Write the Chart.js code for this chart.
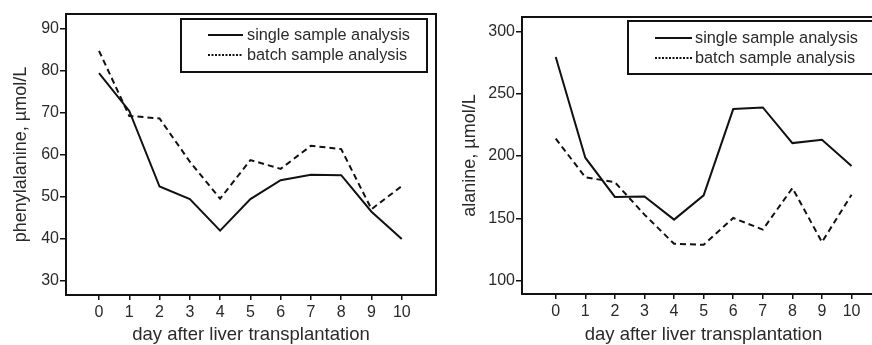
<!DOCTYPE html>
<html><head><meta charset="utf-8">
<script src="https://cdn.jsdelivr.net/npm/chart.js@4"></script>
<style>
html,body{margin:0;padding:0;background:#fff;overflow:hidden;width:872px;height:345px;}
.p{position:absolute;top:0;height:345px;}
#w1{left:0;width:440px;}
#w2{left:440px;width:450px;}
</style></head><body>
<div id="w1" class="p"><canvas id="c1"></canvas></div>
<div id="w2" class="p"><canvas id="c2"></canvas></div>
<script>
const days = [0,1,2,3,4,5,6,7,8,9,10];
const xTicks = [0,1,2,3,4,5,6,7,8,9,10];
const pheSingle = [79.5,70.5,52.5,49.5,42,49.5,54,55.3,55.2,46.5,40];
const pheBatch = [84.8,69.3,68.7,58.4,49.6,58.8,56.7,62.2,61.4,47.1,52.6];
const pheTicks = [30,40,50,60,70,80,90];
const alaSingle = [279.5,198.7,167.2,167.5,149,168.5,237.7,239,210.4,213,192];
const alaBatch = [214,183,179,153,129.6,128.8,150.3,141,174.3,131,169];
const alaTicks = [100,150,200,250,300];
const seriesLabels = ['single sample analysis','batch sample analysis'];
const xTitle = 'day after liver transplantation';
const pheTitle = 'phenylalanine, \u00b5mol/L';
const alaTitle = 'alanine, \u00b5mol/L';

const FONT = '"Liberation Sans", Arial, sans-serif';
const INK = '#111';
const TXT = '#2a2a2a';

const framePlugin = {
  id: 'frameLegend',
  afterDraw(chart, args, o) {
    const {ctx, chartArea: a} = chart;
    ctx.save();
    ctx.strokeStyle = INK;
    ctx.lineWidth = 2;
    ctx.setLineDash([]);
    ctx.strokeRect(a.left, a.top, a.right - a.left, a.bottom - a.top);
    ctx.fillStyle = '#fff';
    ctx.fillRect(o.x, o.y, o.w, o.h);
    ctx.strokeRect(o.x, o.y, o.w, o.h);
    ctx.font = '16.3px ' + FONT;
    ctx.textBaseline = 'middle';
    ctx.textAlign = 'left';
    chart.data.datasets.forEach((ds, i) => {
      const ry = o.y + o.rows[i];
      ctx.beginPath();
      ctx.setLineDash(ds.legendDash);
      ctx.lineWidth = 2;
      ctx.strokeStyle = INK;
      ctx.moveTo(o.x + o.lineX, ry);
      ctx.lineTo(o.x + o.lineX + o.lineLen, ry);
      ctx.stroke();
      ctx.setLineDash([]);
      ctx.fillStyle = TXT;
      ctx.fillText(ds.label, o.x + o.textX, ry + 1);
    });
    ctx.restore();
  }
};

function pts(ys) { return days.map((d, i) => ({x: d, y: ys[i]})); }

function makeChart(id, single, batch, yTicks, yMin, yMax, xMin, xMax, yTitle, yw, xh, pad, titlePad, legend) {
  return new Chart(document.getElementById(id), {
    type: 'line',
    data: {
      datasets: [
        {label: seriesLabels[0], data: pts(single), borderColor: INK, borderWidth: 2, pointRadius: 0, tension: 0, fill: false, legendDash: []},
        {label: seriesLabels[1], data: pts(batch), borderColor: INK, borderWidth: 2, borderDash: [6, 4], pointRadius: 0, tension: 0, fill: false, legendDash: [2, 1.5]}
      ]
    },
    options: {
      responsive: true,
      maintainAspectRatio: false,
      animation: false,
      events: [],
      layout: {padding: pad},
      plugins: {legend: {display: false}, tooltip: {enabled: false}, frameLegend: legend},
      scales: {
        x: {
          type: 'linear', min: xMin, max: xMax,
          afterBuildTicks: s => { s.ticks = xTicks.map(v => ({value: v})); },
          afterFit: s => { s.height = xh; },
          grid: {display: true, drawOnChartArea: false, drawTicks: true, tickLength: 5, color: INK, lineWidth: 1.5},
          border: {display: false},
          ticks: {color: TXT, font: {family: FONT, size: 16}, padding: 3, maxRotation: 0, autoSkip: false},
          title: {display: true, text: xTitle, color: TXT, font: {family: FONT, size: 18.5}, padding: {top: 0, bottom: -1.5}}
        },
        y: {
          type: 'linear', min: yMin, max: yMax,
          afterBuildTicks: s => { s.ticks = yTicks.map(v => ({value: v})); },
          afterFit: s => { s.width = yw; },
          grid: {display: true, drawOnChartArea: false, drawTicks: true, tickLength: 6, color: INK, lineWidth: 1.5},
          border: {display: false},
          ticks: {color: TXT, font: {family: FONT, size: 16}, padding: 1, autoSkip: false},
          title: {display: true, text: yTitle, color: TXT, font: {family: FONT, size: 18}, padding: titlePad}
        }
      }
    },
    plugins: [framePlugin]
  });
}

makeChart('c1', pheSingle, pheBatch, pheTicks, 26.67, 93.57, -1.09, 11.13, pheTitle, 66, 50,
  {left: 0, right: 4, top: 14, bottom: 0}, {top: 10, bottom: 0},
  {x: 181, y: 19, w: 246, h: 53, lineX: 27, lineLen: 35, textX: 66, rows: [16, 36]});
makeChart('c2', alaSingle, alaBatch, alaTicks, 89.3, 311.6, -1.14, 11.13, alaTitle, 82, 51,
  {left: 0, right: 5, top: 17, bottom: 0}, {top: 19, bottom: 0},
  {x: 188, y: 21, w: 246, h: 53, lineX: 27, lineLen: 37, textX: 67, rows: [17, 37]});
</script>
</body></html>
